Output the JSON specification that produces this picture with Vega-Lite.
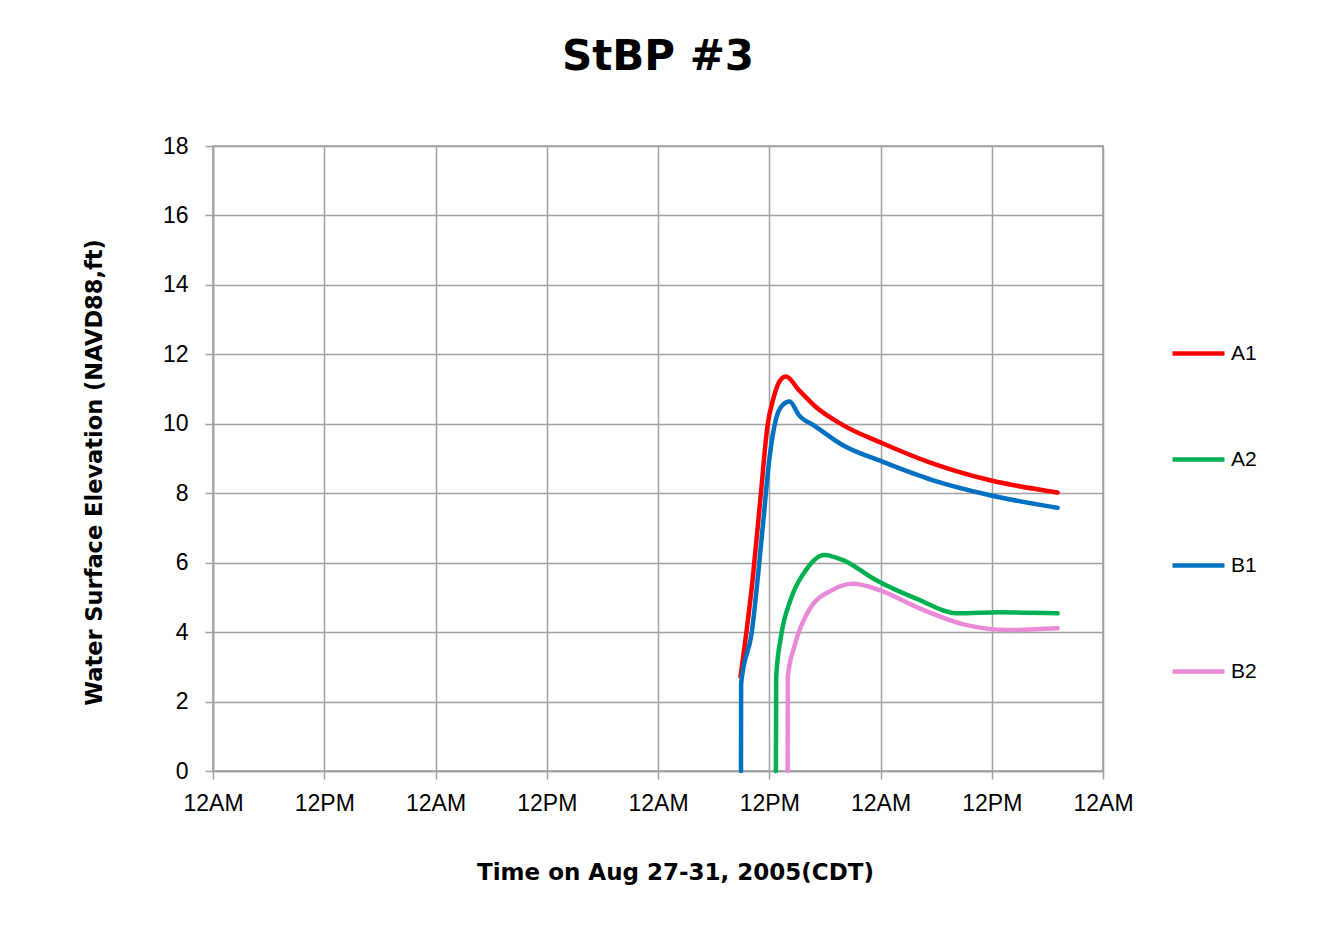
{
  "$schema": "https://vega.github.io/schema/vega-lite/v6.json",
  "autosize": "none",
  "width": 890,
  "height": 625,
  "padding": {"left": 213, "top": 146, "right": 214, "bottom": 159},
  "background": "white",
  "title": {"text": "StBP #3", "font": "DejaVu Sans", "fontSize": 42, "fontWeight": "bold", "color": "black", "anchor": "middle", "offset": 56},
  "data": {
    "values": [
      {"series": "A1", "t": "2005-08-29T08:54", "v": 2.72},
      {"series": "A1", "t": "2005-08-29T10:12", "v": 5.5},
      {"series": "A1", "t": "2005-08-29T11:06", "v": 8.0},
      {"series": "A1", "t": "2005-08-29T11:48", "v": 9.92},
      {"series": "A1", "t": "2005-08-29T12:30", "v": 10.78},
      {"series": "A1", "t": "2005-08-29T13:05", "v": 11.21},
      {"series": "A1", "t": "2005-08-29T13:48", "v": 11.36},
      {"series": "A1", "t": "2005-08-29T15:12", "v": 10.97},
      {"series": "A1", "t": "2005-08-29T17:00", "v": 10.49},
      {"series": "A1", "t": "2005-08-29T19:54", "v": 9.97},
      {"series": "A1", "t": "2005-08-30T00:12", "v": 9.44},
      {"series": "A1", "t": "2005-08-30T05:36", "v": 8.86},
      {"series": "A1", "t": "2005-08-30T11:42", "v": 8.38},
      {"series": "A1", "t": "2005-08-30T19:06", "v": 8.02},
      {"series": "B1", "t": "2005-08-29T08:57", "v": 0},
      {"series": "B1", "t": "2005-08-29T08:58", "v": 2.52},
      {"series": "B1", "t": "2005-08-29T10:06", "v": 3.97},
      {"series": "B1", "t": "2005-08-29T11:18", "v": 7.04},
      {"series": "B1", "t": "2005-08-29T12:00", "v": 8.96},
      {"series": "B1", "t": "2005-08-29T12:42", "v": 10.11},
      {"series": "B1", "t": "2005-08-29T13:26", "v": 10.54},
      {"series": "B1", "t": "2005-08-29T14:12", "v": 10.64},
      {"series": "B1", "t": "2005-08-29T15:12", "v": 10.25},
      {"series": "B1", "t": "2005-08-29T17:00", "v": 9.92},
      {"series": "B1", "t": "2005-08-29T19:54", "v": 9.39},
      {"series": "B1", "t": "2005-08-30T00:12", "v": 8.91},
      {"series": "B1", "t": "2005-08-30T05:36", "v": 8.38},
      {"series": "B1", "t": "2005-08-30T11:42", "v": 7.95},
      {"series": "B1", "t": "2005-08-30T19:06", "v": 7.58},
      {"series": "A2", "t": "2005-08-29T12:43", "v": 0},
      {"series": "A2", "t": "2005-08-29T12:45", "v": 2.72},
      {"series": "A2", "t": "2005-08-29T13:16", "v": 3.87},
      {"series": "A2", "t": "2005-08-29T14:18", "v": 4.93},
      {"series": "A2", "t": "2005-08-29T15:58", "v": 5.79},
      {"series": "A2", "t": "2005-08-29T17:54", "v": 6.22},
      {"series": "A2", "t": "2005-08-29T19:54", "v": 6.08},
      {"series": "A2", "t": "2005-08-29T23:30", "v": 5.5},
      {"series": "A2", "t": "2005-08-30T03:48", "v": 4.97},
      {"series": "A2", "t": "2005-08-30T08:30", "v": 4.54},
      {"series": "A2", "t": "2005-08-30T12:48", "v": 4.57},
      {"series": "A2", "t": "2005-08-30T19:06", "v": 4.54},
      {"series": "B2", "t": "2005-08-29T13:59", "v": 0},
      {"series": "B2", "t": "2005-08-29T14:00", "v": 2.72},
      {"series": "B2", "t": "2005-08-29T14:42", "v": 3.58},
      {"series": "B2", "t": "2005-08-29T16:18", "v": 4.64},
      {"series": "B2", "t": "2005-08-29T18:48", "v": 5.21},
      {"series": "B2", "t": "2005-08-29T21:00", "v": 5.39},
      {"series": "B2", "t": "2005-08-29T23:54", "v": 5.21},
      {"series": "B2", "t": "2005-08-30T03:48", "v": 4.73},
      {"series": "B2", "t": "2005-08-30T09:18", "v": 4.2},
      {"series": "B2", "t": "2005-08-30T13:36", "v": 4.06},
      {"series": "B2", "t": "2005-08-30T19:06", "v": 4.11}
    ]
  },
  "mark": {"type": "line", "strokeWidth": 4.5, "interpolate": "monotone", "strokeCap": "round", "strokeJoin": "round"},
  "encoding": {
    "x": {
      "field": "t", "type": "temporal",
      "scale": {"domain": [{"year": 2005, "month": 8, "date": 27}, {"year": 2005, "month": 8, "date": 31}], "nice": false},
      "axis": {
        "values": [
          {"year": 2005, "month": 8, "date": 27, "hours": 0},
          {"year": 2005, "month": 8, "date": 27, "hours": 12},
          {"year": 2005, "month": 8, "date": 28, "hours": 0},
          {"year": 2005, "month": 8, "date": 28, "hours": 12},
          {"year": 2005, "month": 8, "date": 29, "hours": 0},
          {"year": 2005, "month": 8, "date": 29, "hours": 12},
          {"year": 2005, "month": 8, "date": 30, "hours": 0},
          {"year": 2005, "month": 8, "date": 30, "hours": 12},
          {"year": 2005, "month": 8, "date": 31, "hours": 0}
        ],
        "format": "%I%p",
        "title": "Time  on Aug 27-31, 2005(CDT)",
        "titlePadding": 46,
        "titleX": 462,
        "labelPadding": 13,
        "labelFlush": false,
        "labelOverlap": false
      }
    },
    "y": {
      "field": "v", "type": "quantitative",
      "scale": {"domain": [0, 18], "nice": false},
      "axis": {
        "values": [0, 2, 4, 6, 8, 10, 12, 14, 16, 18],
        "title": "Water Surface Elevation  (NAVD88,ft)",
        "titlePadding": 56,
        "titleY": 326,
        "titleFontSize": 22.5,
        "labelPadding": 17
      }
    },
    "color": {
      "field": "series", "type": "nominal",
      "scale": {"domain": ["A1", "A2", "B1", "B2"], "range": ["#ff0000", "#00b050", "#0070c0", "#e98ad8"]},
      "legend": {
        "title": null,
        "orient": "none",
        "legendX": 957,
        "legendY": 179,
        "symbolType": "stroke",
        "symbolSize": 2700,
        "symbolStrokeWidth": 4.5,
        "rowPadding": 67,
        "labelFontSize": 21,
        "labelFont": "Liberation Sans",
        "labelColor": "black",
        "labelOffset": 4
      }
    }
  },
  "config": {
    "view": {"stroke": "#a0a0a0", "strokeWidth": 1.5},
    "axis": {
      "domainColor": "#a0a0a0",
      "domainWidth": 1.5,
      "tickColor": "#a0a0a0",
      "tickWidth": 1.5,
      "tickSize": 8,
      "gridColor": "#a0a0a0",
      "gridWidth": 1.5,
      "grid": true,
      "labelFont": "Liberation Sans",
      "labelFontSize": 23,
      "labelColor": "black",
      "titleFont": "DejaVu Sans",
      "titleFontSize": 23,
      "titleFontWeight": "bold",
      "titleColor": "black"
    }
  }
}
